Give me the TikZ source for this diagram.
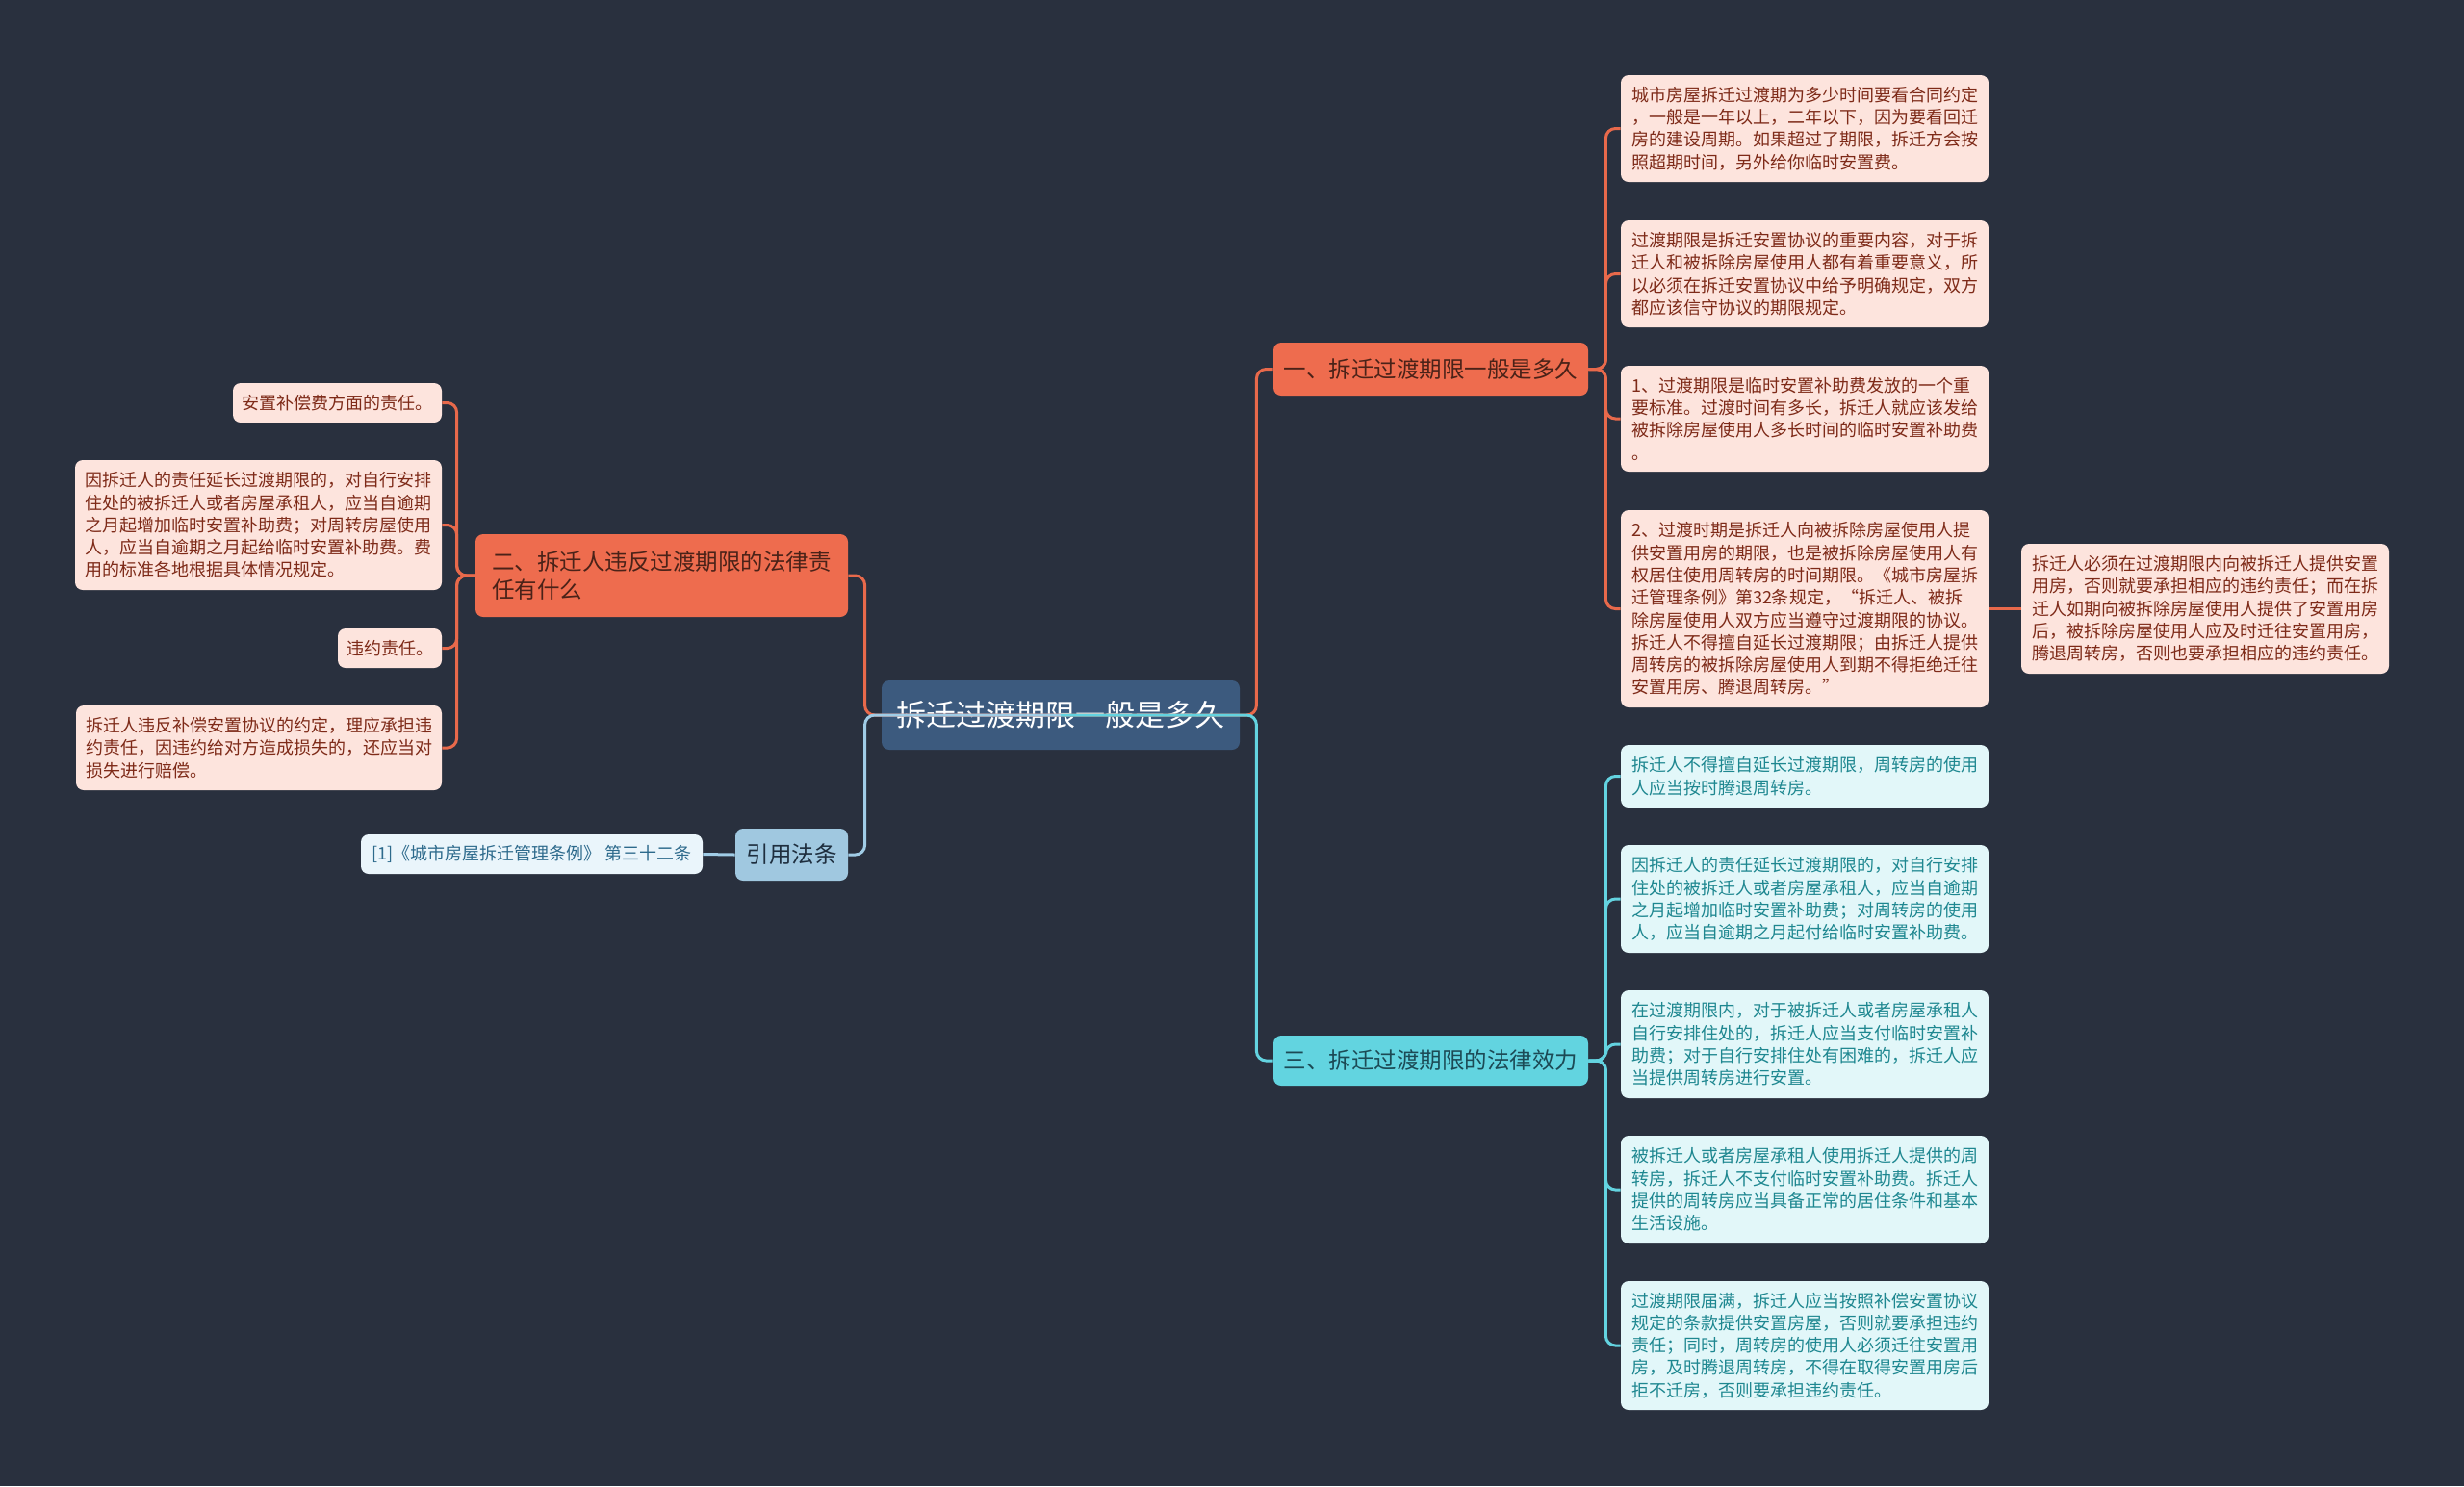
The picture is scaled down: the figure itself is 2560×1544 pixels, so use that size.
\documentclass[tikz,border=0pt]{standalone}
\usepackage{fontspec}
\newfontfamily\cjk{Noto Sans CJK SC}
\definecolor{bg}{HTML}{29303E}
\definecolor{rootc}{HTML}{3C5A7E}
\definecolor{orb}{HTML}{EE6C4E}
\definecolor{orbtext}{HTML}{4A2218}
\definecolor{peach}{HTML}{FDE4DD}
\definecolor{peachtext}{HTML}{7E2A18}
\definecolor{cyb}{HTML}{62D4E0}
\definecolor{cybtext}{HTML}{1C4A55}
\definecolor{cyleaf}{HTML}{E2F7F9}
\definecolor{cytext}{HTML}{1E8790}
\definecolor{lawc}{HTML}{A0C8E0}
\definecolor{lawtext}{HTML}{1E2E3E}
\definecolor{citefill}{HTML}{EAF5FB}
\definecolor{citetext}{HTML}{2D6A8C}
\definecolor{lineo}{HTML}{E8694B}
\definecolor{linec}{HTML}{63D3E0}
\definecolor{lineb}{HTML}{A0CCE6}
\tikzset{
  box/.style={rounded corners=4pt, inner sep=2pt, align=left, anchor=center},
  rootbox/.style={box, fill=rootc, text=white, font=\cjk\fontsize{15.5pt}{19pt}\selectfont},
  brO/.style={box, fill=orb, text=orbtext, font=\cjk\fontsize{11.75pt}{14.5pt}\selectfont},
  brC/.style={box, fill=cyb, text=cybtext, font=\cjk\fontsize{11.75pt}{14.5pt}\selectfont},
  lawbox/.style={box, fill=lawc, text=lawtext, font=\cjk\fontsize{11.75pt}{14.5pt}\selectfont},
  citebox/.style={box, fill=citefill, text=citetext, font=\cjk\fontsize{9pt}{11.65pt}\selectfont},
  leafO/.style={box, fill=peach, text=peachtext, font=\cjk\fontsize{9pt}{11.65pt}\selectfont, minimum width=191pt},
  leafC/.style={box, fill=cyleaf, text=cytext, font=\cjk\fontsize{9pt}{11.65pt}\selectfont, minimum width=191pt},
  connO/.style={draw=lineo, line width=1.5pt, rounded corners=5pt},
  connC/.style={draw=linec, line width=1.5pt, rounded corners=5pt},
  connB/.style={draw=lineb, line width=1.5pt, rounded corners=5pt},
}
\begin{document}
\begin{tikzpicture}[x=0.5pt,y=-0.5pt]
\fill[bg] (0,0) rectangle (2560,1544);
\useasboundingbox (0,0) rectangle (2560,1544);

% main nodes
\node[rootbox, minimum width=186pt, minimum height=36pt] (root) at (1102,743) {拆迁过渡期限一般是多久};
\node[brO, minimum width=163.5pt, minimum height=27.5pt] (b1) at (1486.5,383.5) {一、拆迁过渡期限一般是多久};
\node[brC, minimum width=163.5pt, minimum height=26pt] (b3) at (1486.5,1102) {三、拆迁过渡期限的法律效力};
\node[brO, minimum width=193.5pt, minimum height=43pt] (b2) at (687.5,598) {二、拆迁人违反过渡期限的法律责\\任有什么};
\node[lawbox, minimum width=58.5pt, minimum height=27pt] (law) at (822.5,888) {引用法条};
\node[citebox, minimum width=177.5pt, minimum height=20.5pt] (cite) at (552.5,887.5) {[1]《城市房屋拆迁管理条例》 第三十二条};

% branch 1 leaves
\node[leafO, minimum height=55.5pt] (l1a) at (1875,133.5) {城市房屋拆迁过渡期为多少时间要看合同约定\\，一般是一年以上，二年以下，因为要看回迁\\房的建设周期。如果超过了期限，拆迁方会按\\照超期时间，另外给你临时安置费。};
\node[leafO, minimum height=55.5pt] (l1b) at (1875,284.5) {过渡期限是拆迁安置协议的重要内容，对于拆\\迁人和被拆除房屋使用人都有着重要意义，所\\以必须在拆迁安置协议中给予明确规定，双方\\都应该信守协议的期限规定。};
\node[leafO, minimum height=55pt] (l1c) at (1875,435) {1、过渡期限是临时安置补助费发放的一个重\\要标准。过渡时间有多长，拆迁人就应该发给\\被拆除房屋使用人多长时间的临时安置补助费\\。};
\node[leafO, minimum height=102.5pt] (l1d) at (1875,632.5) {2、过渡时期是拆迁人向被拆除房屋使用人提\\供安置用房的期限，也是被拆除房屋使用人有\\权居住使用周转房的时间期限。《城市房屋拆\\迁管理条例》第32条规定，“拆迁人、被拆\\除房屋使用人双方应当遵守过渡期限的协议。\\拆迁人不得擅自延长过渡期限；由拆迁人提供\\周转房的被拆除房屋使用人到期不得拒绝迁往\\安置用房、腾退周转房。”};
\node[leafO, minimum height=67.5pt] (lfr) at (2291,632.5) {拆迁人必须在过渡期限内向被拆迁人提供安置\\用房，否则就要承担相应的违约责任；而在拆\\迁人如期向被拆除房屋使用人提供了安置用房\\后，被拆除房屋使用人应及时迁往安置用房，\\腾退周转房，否则也要承担相应的违约责任。};

% branch 3 leaves
\node[leafC, minimum height=32.5pt] (l3a) at (1875,806.5) {拆迁人不得擅自延长过渡期限，周转房的使用\\人应当按时腾退周转房。};
\node[leafC, minimum height=56pt] (l3b) at (1875,934) {因拆迁人的责任延长过渡期限的，对自行安排\\住处的被拆迁人或者房屋承租人，应当自逾期\\之月起增加临时安置补助费；对周转房的使用\\人，应当自逾期之月起付给临时安置补助费。};
\node[leafC, minimum height=56pt] (l3c) at (1875,1085) {在过渡期限内，对于被拆迁人或者房屋承租人\\自行安排住处的，拆迁人应当支付临时安置补\\助费；对于自行安排住处有困难的，拆迁人应\\当提供周转房进行安置。};
\node[leafC, minimum height=56pt] (l3d) at (1875,1236) {被拆迁人或者房屋承租人使用拆迁人提供的周\\转房，拆迁人不支付临时安置补助费。拆迁人\\提供的周转房应当具备正常的居住条件和基本\\生活设施。};
\node[leafC, minimum height=67pt] (l3e) at (1875,1398) {过渡期限届满，拆迁人应当按照补偿安置协议\\规定的条款提供安置房屋，否则就要承担违约\\责任；同时，周转房的使用人必须迁往安置用\\房，及时腾退周转房，不得在取得安置用房后\\拒不迁房，否则要承担违约责任。};

% branch 2 leaves
\node[leafO, minimum width=108.5pt, minimum height=20.5pt] (l2a) at (350.5,418.5) {安置补偿费方面的责任。};
\node[leafO, minimum width=190.5pt, minimum height=67.5pt] (l2b) at (268.5,545.5) {因拆迁人的责任延长过渡期限的，对自行安排\\住处的被拆迁人或者房屋承租人，应当自逾期\\之月起增加临时安置补助费；对周转房屋使用\\人，应当自逾期之月起给临时安置补助费。费\\用的标准各地根据具体情况规定。};
\node[leafO, minimum width=54pt, minimum height=20.5pt] (l2c) at (405,673.5) {违约责任。};
\node[leafO, minimum width=190pt, minimum height=44pt] (l2d) at (269,777) {拆迁人违反补偿安置协议的约定，理应承担违\\约责任，因违约给对方造成损失的，还应当对\\损失进行赔偿。};

% connectors from root
\draw[connO] (root.center) -- ([xshift=8.5pt]root.east) |- (b1.west);
\draw[connO] (root.center) -- ([xshift=-8.5pt]root.west) |- (b2.east);
\draw[connC] (root.center) -- ([xshift=8.5pt]root.east) |- (b3.west);
\draw[connB] (root.center) -- ([xshift=-8.5pt]root.west) |- (law.east);

% branch 1
\foreach \n in {l1a,l1b,l1c,l1d}
  \draw[connO] (b1.east) -- ([xshift=9pt]b1.east) |- (\n.west);
\draw[connO] (l1d.east) -- (lfr.west);

% branch 3
\foreach \n in {l3a,l3b,l3c,l3d,l3e}
  \draw[connC] (b3.east) -- ([xshift=9pt]b3.east) |- (\n.west);

% branch 2
\foreach \n in {l2a,l2b,l2c,l2d}
  \draw[connO] (b2.west) -- ([xshift=-9.5pt]b2.west) |- (\n.east);

% law
\draw[connB] (law.west) -- (cite.east);
\end{tikzpicture}
\end{document}
